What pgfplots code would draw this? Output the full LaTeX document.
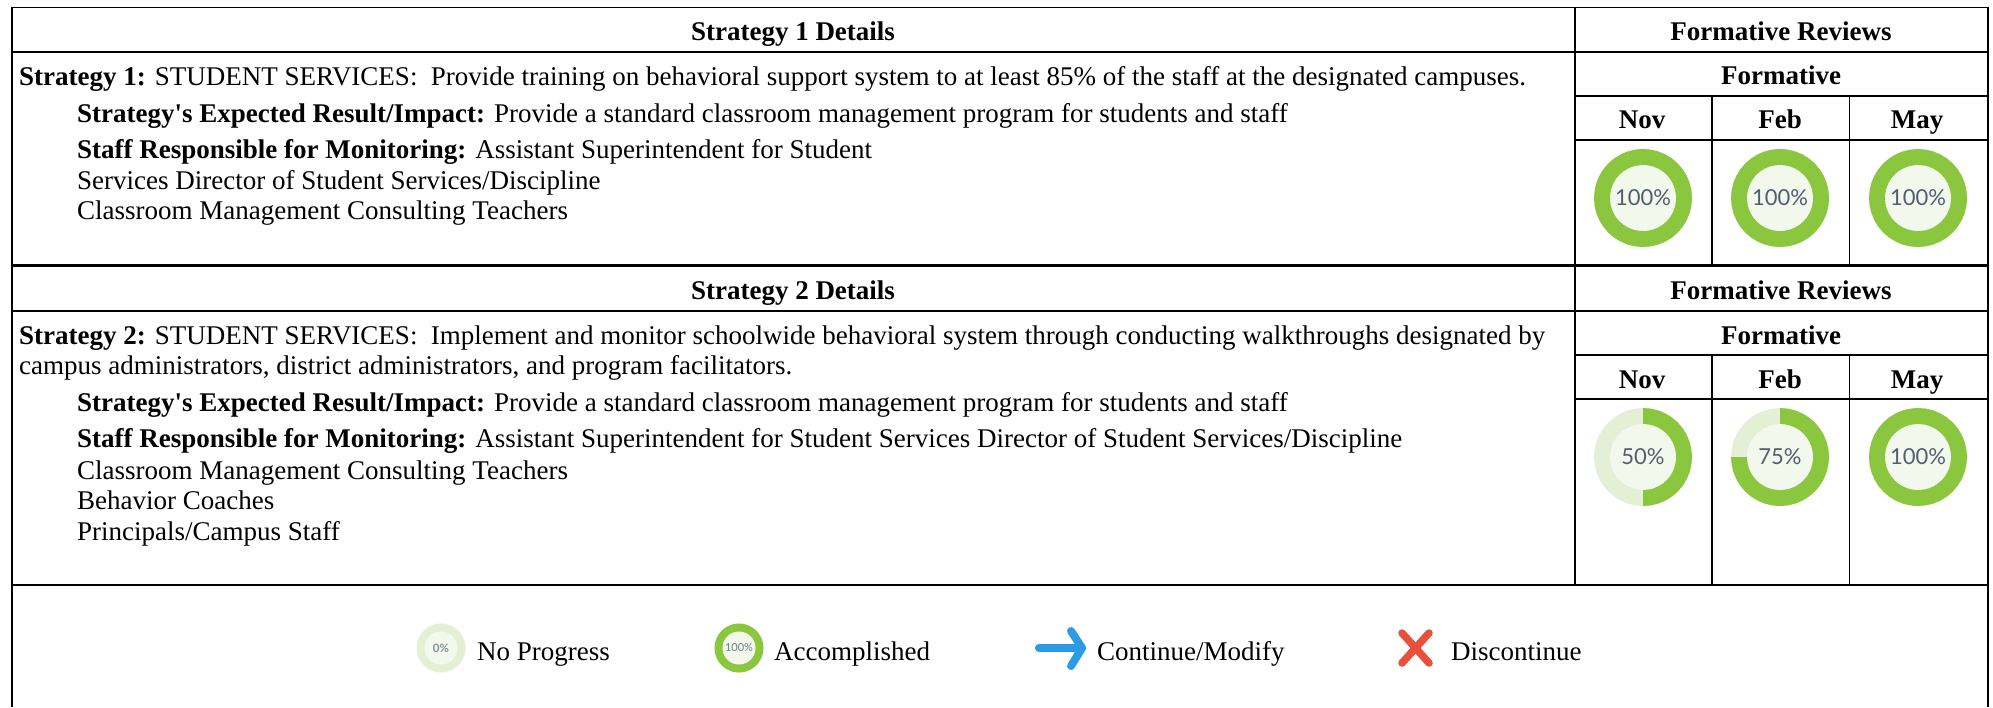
\documentclass[border=0pt]{standalone}
\usepackage{fontspec}
\setmainfont{Liberation Serif}
\newfontfamily\plainfont{Liberation Serif}
\newcommand{\apos}{{\plainfont\char39 }}
\newfontfamily\lato{Lato}
\usepackage{pgfplots}
\usepackage{pgfplotstable}
\pgfplotsset{compat=1.18}
\definecolor{gA}{HTML}{8AC73E}
\definecolor{gB}{HTML}{E3F0D6}
\definecolor{gC}{HTML}{F2F8EC}
\definecolor{pct}{HTML}{4F5F70}
\pgfplotstableread{
p r
0 0
0 1
2.5 1
5 1
7.5 1
10 1
12.5 1
15 1
17.5 1
20 1
22.5 1
25 1
27.5 1
30 1
32.5 1
35 1
37.5 1
40 1
42.5 1
45 1
47.5 1
50 1
52.5 1
55 1
57.5 1
60 1
62.5 1
65 1
67.5 1
70 1
72.5 1
75 1
77.5 1
80 1
82.5 1
85 1
87.5 1
90 1
92.5 1
95 1
97.5 1
100 1
}\arcdata
% cx cy rx ry irx iry value
\newcommand{\donut}[7]{%
 \addplot[draw=none,fill=gB,forget plot] table[x expr={#1+#3*\thisrow{r}*sin(3.6*\thisrow{p})},y expr={#2-#4*\thisrow{r}*cos(3.6*\thisrow{p})}] {\arcdata} --cycle;
 \ifnum#7>0
 \addplot[draw=none,fill=gA,forget plot,restrict expr to domain={\thisrow{p}}{0:#7}] table[x expr={#1+#3*\thisrow{r}*sin(3.6*\thisrow{p})},y expr={#2-#4*\thisrow{r}*cos(3.6*\thisrow{p})}] {\arcdata} --cycle;
 \fi
 \addplot[draw=none,fill=gC,forget plot] table[x expr={#1+#5*\thisrow{r}*sin(3.6*\thisrow{p})},y expr={#2-#6*\thisrow{r}*cos(3.6*\thisrow{p})}] {\arcdata} --cycle;
}
\newcommand{\vl}[3]{\addplot[black,line width=1.8pt,forget plot] coordinates {(#1,#2) (#1,#3)};}
\newcommand{\T}[3]{\node[anchor=base west,inner sep=0pt,font=\fontsize{27}{30}\selectfont] at (axis cs:#1,#2) {#3};}
\newcommand{\C}[3]{\node[anchor=base,inner sep=0pt,font=\fontsize{27}{30}\selectfont\bfseries] at (axis cs:#1,#2) {#3};}
\begin{document}
\begin{tikzpicture}
\begin{axis}[at={(0,0)},anchor=south west,scale only axis,width=1993pt,height=707pt,
 xmin=0,xmax=1993,ymin=0,ymax=707,y dir=reverse,hide axis,clip=false]
% page extent
\addplot[draw=none,forget plot] coordinates {(0,0) (1993,707)};
% rules
\addplot[black,line width=1.8pt,forget plot] coordinates {(12,7.5) (1988,7.5)};
\addplot[black,line width=1.8pt,forget plot] coordinates {(12,52) (1988,52)};
\addplot[black,line width=1.8pt,forget plot] coordinates {(1575,96) (1988,96)};
\addplot[black,line width=1.8pt,forget plot] coordinates {(1575,140) (1988,140)};
\addplot[black,line width=3pt,forget plot] coordinates {(12,265) (1988,265)};
\addplot[black,line width=1.8pt,forget plot] coordinates {(12,311) (1988,311)};
\addplot[black,line width=1.8pt,forget plot] coordinates {(1575,355) (1988,355)};
\addplot[black,line width=1.8pt,forget plot] coordinates {(1575,399) (1988,399)};
\addplot[black,line width=1.8pt,forget plot] coordinates {(12,585) (1988,585)};
\vl{12}{7}{707}
\vl{1988}{7}{707}
\vl{1575}{7}{585}
\vl{1712}{96}{265}
\vl{1849.5}{96}{265}
\vl{1712}{355}{585}
\vl{1849.5}{355}{585}
% donuts
\donut{1643}{198}{49}{49}{33}{33}{100}
\donut{1780}{198}{49}{49}{33}{33}{100}
\donut{1918}{198}{49}{49}{33}{33}{100}
\donut{1643}{457}{49}{49}{33}{33}{50}
\donut{1780}{457}{49}{49}{33}{33}{75}
\donut{1918}{457}{49}{49}{33}{33}{100}
\donut{441}{648}{24.5}{24.5}{16.5}{16.5}{0}
\donut{739}{648}{24.5}{24.5}{16.5}{16.5}{100}
% arrow and cross
\addplot[color={rgb,255:red,43;green,155;blue,230},line width=8pt,line cap=round,forget plot] coordinates {(1039,648) (1082,648)};
\addplot[color={rgb,255:red,43;green,155;blue,230},line width=8pt,line cap=round,line join=round,forget plot] coordinates {(1071,631) (1082,648) (1071,666)};
\addplot[color={rgb,255:red,232;green,80;blue,60},line width=7.5pt,line cap=round,forget plot] coordinates {(1402,633) (1429,663)};
\addplot[color={rgb,255:red,232;green,80;blue,60},line width=7.5pt,line cap=round,forget plot] coordinates {(1429,633) (1402,663)};
% percent labels
\foreach \x/\y/\s in {1643/198/100\%,1780/198/100\%,1918/198/100\%,1643/457/50\%,1780/457/75\%,1918/457/100\%}{
 \edef\tmp{\noexpand\node[inner sep=0pt,text=pct,font=\noexpand\lato\noexpand\fontsize{22}{26}\noexpand\selectfont] at (axis cs:\x,\y) {\s};}\tmp}
\node[inner sep=0pt,text=pct!70,font=\lato\fontsize{11.5}{12}\selectfont\bfseries] at (axis cs:441,648) {0\%};
\node[inner sep=0pt,text=pct!80,font=\lato\fontsize{11}{12}\selectfont] at (axis cs:739,648) {100\%};
% headings
\C{793}{40}{Strategy 1 Details}
\C{1781}{40}{Formative Reviews}
\C{1781}{84}{Formative}
\C{1642}{128}{Nov}
\C{1780}{128}{Feb}
\C{1917}{128}{May}
\C{793}{299}{Strategy 2 Details}
\C{1781}{299}{Formative Reviews}
\C{1781}{344}{Formative}
\C{1642}{388}{Nov}
\C{1780}{388}{Feb}
\C{1917}{388}{May}
% block 1
\T{19}{85}{\textbf{Strategy 1:} STUDENT SERVICES:\ \ Provide training on behavioral support system to at least 85\% of the staff at the designated campuses.}
\T{77}{122}{\textbf{Strategy\apos s Expected Result/Impact:} Provide a standard classroom management program for students and staff}
\T{77}{158}{\textbf{Staff Responsible for Monitoring:} Assistant Superintendent for Student}
\T{77}{189}{Services Director of Student Services/Discipline}
\T{77}{219}{Classroom Management Consulting Teachers}
% block 2
\T{19}{344}{\textbf{Strategy 2:} STUDENT SERVICES:\ \ Implement and monitor schoolwide behavioral system through conducting walkthroughs designated by}
\T{19}{374}{campus administrators, district administrators, and program facilitators.}
\T{77}{411}{\textbf{Strategy\apos s Expected Result/Impact:} Provide a standard classroom management program for students and staff}
\T{77}{447}{\textbf{Staff Responsible for Monitoring:} Assistant Superintendent for Student Services Director of Student Services/Discipline}
\T{77}{479}{Classroom Management Consulting Teachers}
\T{77}{509}{Behavior Coaches}
\T{77}{540}{Principals/Campus Staff}
% legend
\T{477}{660}{No Progress}
\T{774}{660}{Accomplished}
\T{1097}{660}{Continue/Modify}
\T{1451}{660}{Discontinue}
\end{axis}
\end{tikzpicture}
\end{document}
